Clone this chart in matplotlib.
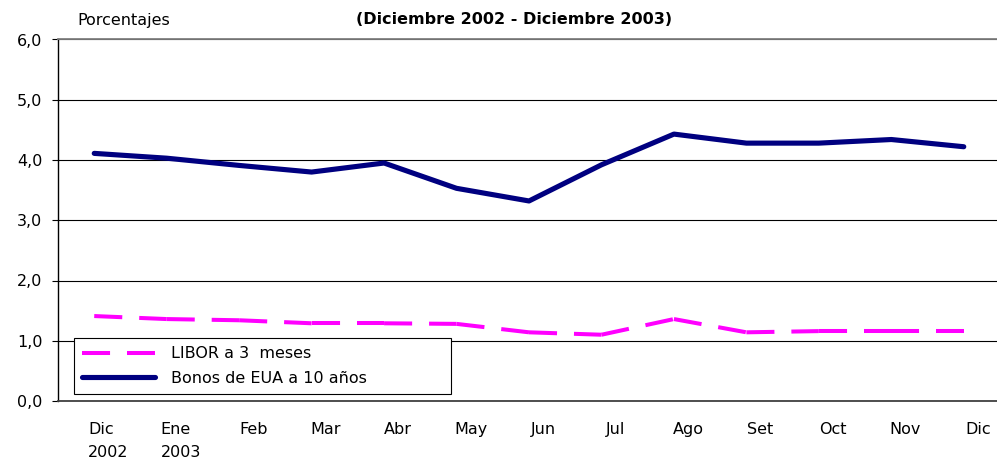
import numpy as np
import matplotlib
matplotlib.use("Agg")
import matplotlib.pyplot as plt
from matplotlib.lines import Line2D
import matplotlib.transforms as mtransforms

plt.rcParams['font.family'] = ['DejaVu Sans']
plt.rcParams['lines.scale_dashes'] = False

# ---- data ----
months = ["Dic\n2002", "Ene\n2003", "Feb", "Mar", "Abr", "May", "Jun",
          "Jul", "Ago", "Set", "Oct", "Nov", "Dic"]
libor = [1.41, 1.36, 1.34, 1.29, 1.29, 1.28, 1.14, 1.10, 1.36, 1.14, 1.16, 1.16, 1.16]
bonos = [4.11, 4.03, 3.91, 3.80, 3.95, 3.53, 3.32, 3.92, 4.43, 4.28, 4.28, 4.34, 4.22]
yticks = [0, 1, 2, 3, 4, 5, 6]
title = "(Diciembre 2002 - Diciembre 2003)"
ylabel = "Porcentajes"
libor_label = "LIBOR a 3  meses"
bonos_label = "Bonos de EUA a 10 años"

W, H = 997, 461
fig = plt.figure(figsize=(W / 100, H / 100), dpi=100)
ax = fig.add_axes([58 / W, 60 / H, 942 / W, 361.5 / H])

x = np.arange(len(months))
lib_style = dict(color='#FF00FF', lw=2.9, dashes=(20.2, 12.2), dash_capstyle='butt')
bon_style = dict(color='#000080', lw=3.7, solid_capstyle='round', solid_joinstyle='round')

# Excel restarts the dash pattern at every vertex: draw each segment separately
for i in range(len(x) - 1):
    ax.plot(x[i:i + 2], libor[i:i + 2], zorder=3, **lib_style)
ax.plot(x, bonos, zorder=3, **bon_style)

ax.set_xlim(-0.5, len(months) - 0.5)
ax.set_ylim(yticks[0], yticks[-1])
ax.set_yticks(yticks)
ax.set_yticklabels([f"{v:.1f}".replace('.', ',') for v in yticks], fontsize=11.5)
ax.yaxis.grid(True, color='black', lw=0.8)
ax.set_axisbelow(True)

ax.set_xticks(x)
ax.set_xticklabels(months, fontsize=11.5)
ax.tick_params(axis='x', length=0, pad=15)
ax.tick_params(axis='y', length=4.3, width=0.8, direction='out', pad=7)
offset = mtransforms.ScaledTranslation(14 / 100, 0, fig.dpi_scale_trans)
for t in ax.get_xticklabels():
    t.set_linespacing(1.7)
    t.set_multialignment('left')
    t.set_transform(t.get_transform() + offset)

ax.spines['right'].set_visible(False)
ax.spines['top'].set_color('#808080')
ax.spines['top'].set_linewidth(1.3)
ax.spines['bottom'].set_color('#404040')
ax.spines['bottom'].set_linewidth(1.3)
ax.spines['left'].set_color('black')
ax.spines['left'].set_linewidth(1.0)

handles = [Line2D([], [], **lib_style), Line2D([], [], **bon_style)]
leg = ax.legend(handles, [libor_label, bonos_label], loc='lower left',
                bbox_to_anchor=(74 / W, 1 - 394 / H, 377 / W, 58 / H),
                bbox_transform=fig.transFigure,
                mode='expand', fontsize=11.5, frameon=True, fancybox=False,
                edgecolor='black', framealpha=1, handlelength=4.6,
                handletextpad=1.0, borderpad=0.5, labelspacing=0.6,
                borderaxespad=0)
leg.get_frame().set_linewidth(0.8)
leg.set_zorder(5)

fig.text(514 / W, 1 - 20 / H, title, ha='center', va='center', fontsize=11.5, fontweight='bold')
fig.text(77 / W, 1 - 20 / H, ylabel, ha='left', va='center', fontsize=11.5)

fig.savefig("out.png", dpi=100)
